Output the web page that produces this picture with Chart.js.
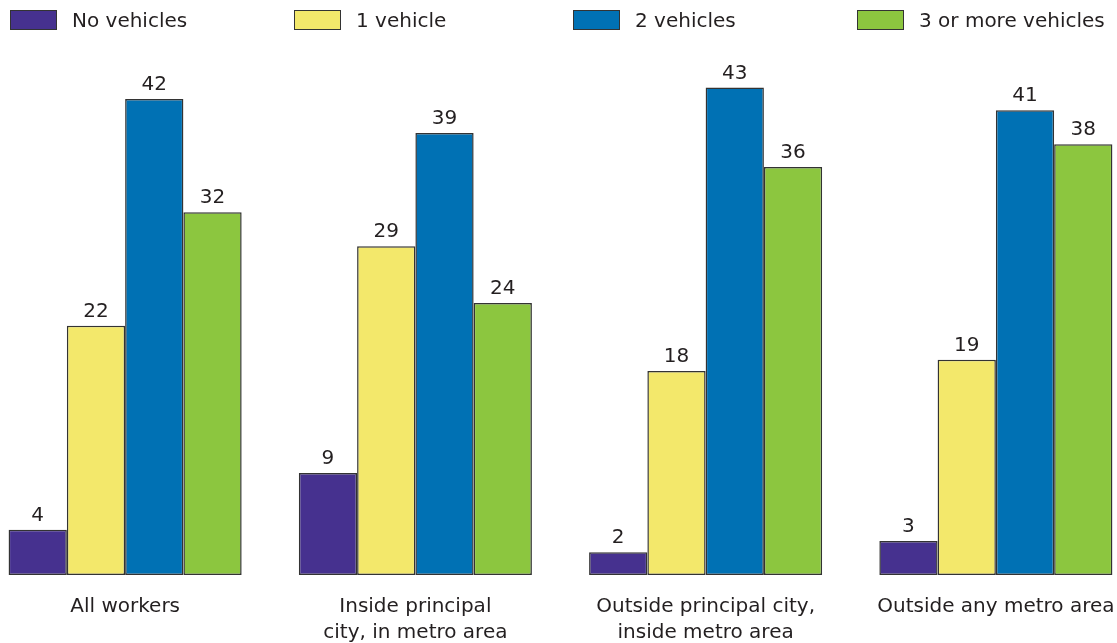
<!DOCTYPE html>
<html>
<head>
<meta charset="utf-8">
<script src="https://cdn.jsdelivr.net/npm/chart.js@4"></script>
<style>
  html, body { margin: 0; padding: 0; background: #fff; overflow: hidden; }
  body { width: 1117px; height: 643px; position: relative; font-family: "DejaVu Sans", sans-serif; color: #231f20; }
  #wrap { position: absolute; left: -20px; top: 0; width: 1161px; height: 665px; }
  #legend { position: absolute; left: 10px; top: 8px; display: flex; z-index: 2; }
  .item { width: 284px; display: flex; align-items: center; font-size: 20px; height: 24px; white-space: nowrap; }
  .item:nth-child(2) { width: 279px; }
  .box { width: 47px; height: 20px; border: 1px solid #333; margin-right: 15px; box-sizing: border-box; flex: none; }
</style>
</head>
<body>
<div id="legend"></div>
<div id="wrap"><canvas id="chart"></canvas></div>
<script>
const categorias = [
  ['All workers'],
  ['Inside principal', 'city, in metro area'],
  ['Outside principal city,', 'inside metro area'],
  ['Outside any metro area']
];
const series = ['No vehicles', '1 vehicle', '2 vehicles', '3 or more vehicles'];
const ningunVehiculo = [4, 9, 2, 3];
const unVehiculo = [22, 29, 18, 19];
const dosVehiculos = [42, 39, 43, 41];
const tresOMas = [32, 24, 36, 38];
const colores = ['#46318f', '#f3e86b', '#0071b4', '#8cc63f'];

// Leyenda en HTML
const legend = document.getElementById('legend');
series.forEach((nombre, i) => {
  const item = document.createElement('div');
  item.className = 'item';
  const box = document.createElement('span');
  box.className = 'box';
  box.style.background = colores[i];
  item.appendChild(box);
  item.appendChild(document.createTextNode(nombre));
  legend.appendChild(item);
});

// Etiquetas con el valor encima de cada barra
const valoresArriba = {
  id: 'valoresArriba',
  afterDatasetsDraw(chart) {
    const ctx = chart.ctx;
    ctx.save();
    ctx.font = '20px "DejaVu Sans", sans-serif';
    ctx.fillStyle = '#231f20';
    ctx.textAlign = 'center';
    ctx.textBaseline = 'alphabetic';
    chart.data.datasets.forEach((ds, i) => {
      chart.getDatasetMeta(i).data.forEach((bar, j) => {
        ctx.fillText(ds.data[j], bar.x, bar.y - 9);
      });
    });
    ctx.restore();
  }
};

const valores = [ningunVehiculo, unVehiculo, dosVehiculos, tresOMas];
new Chart(document.getElementById('chart'), {
  type: 'bar',
  data: {
    labels: categorias,
    datasets: series.map((nombre, i) => ({
      label: nombre,
      data: valores[i],
      backgroundColor: colores[i],
      borderColor: '#333',
      borderWidth: 1.5,
      borderSkipped: false,
      barPercentage: 1,
      categoryPercentage: 0.803
    }))
  },
  options: {
    responsive: true,
    maintainAspectRatio: false,
    animation: false,
    layout: { padding: { top: 40, bottom: 0, left: 0, right: 0 } },
    plugins: {
      legend: { display: false },
      tooltip: { enabled: false }
    },
    scales: {
      x: {
        grid: { display: false, drawTicks: false },
        border: { display: false },
        ticks: {
          padding: 19,
          color: '#231f20',
          font: { family: '"DejaVu Sans", sans-serif', size: 20, lineHeight: 1.3 }
        }
      },
      y: {
        display: false,
        min: 0,
        max: 47.2
      }
    }
  },
  plugins: [valoresArriba]
});
</script>
</body>
</html>
